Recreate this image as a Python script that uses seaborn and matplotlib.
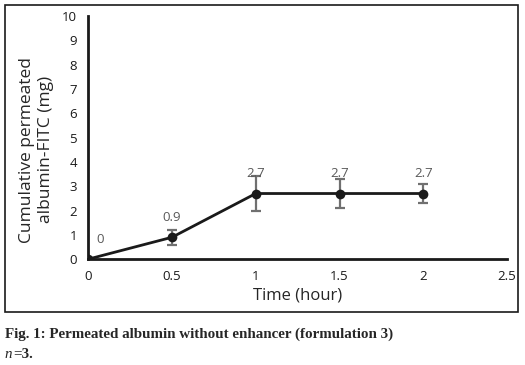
import pandas as pd
import matplotlib.pyplot as plt
import matplotlib.patches as patches
import seaborn as sns

# Values
time_h = [0, 0.5, 1, 1.5, 2]
albumin_mg = [0, 0.9, 2.7, 2.7, 2.7]
sd_mg = [0, 0.3, 0.7, 0.6, 0.4]
point_labels = ['0', '0.9', '2.7', '2.7', '2.7']

df = pd.DataFrame({'time': time_h, 'albumin': albumin_mg, 'sd': sd_mg})

sns.set_style('white')
plt.rcParams['font.family'] = ['Open Sans', 'DejaVu Sans']

fig = plt.figure(figsize=(5.25, 3.65), dpi=100)
ax = fig.add_axes([0.168, 0.29, 0.798, 0.666])

# error bars first so the line sits on top
ax.errorbar(df['time'], df['albumin'], yerr=df['sd'], fmt='none',
            ecolor='#707070', elinewidth=1.6, capsize=3.5, capthick=1.6, zorder=2)
sns.lineplot(data=df, x='time', y='albumin', ax=ax, color='#1a1a1a',
             linewidth=2, marker='o', markersize=7, markeredgewidth=0, zorder=3)

# data labels above each point
for i, (x, y, lab) in enumerate(zip(time_h, albumin_mg, point_labels)):
    dx = 12 if i == 0 else 0
    ax.annotate(lab, (x, y), xytext=(dx, 20), textcoords='offset pixels',
                ha='center', va='center', fontsize=9.5, color='#595959')

ax.set_xlim(0, 2.5)
ax.set_ylim(0, 10)
ax.set_xticks([0, 0.5, 1, 1.5, 2, 2.5])
ax.set_xticklabels(['0', '0.5', '1', '1.5', '2', '2.5'])
ax.set_yticks(range(0, 11))
ax.tick_params(length=0, labelsize=9.5, colors='#1a1a1a', pad=8)

for s in ['top', 'right']:
    ax.spines[s].set_visible(False)
for s in ['left', 'bottom']:
    ax.spines[s].set_linewidth(2)
    ax.spines[s].set_color('#1a1a1a')

ax.set_xlabel('Time (hour)', fontsize=12, labelpad=3)
ax.set_ylabel('Cumulative permeated\nalbumin-FITC (mg)', fontsize=12.5, linespacing=1.25)
ax.yaxis.set_label_coords(-0.082, 0.45)

# border round the chart area
fig.patches.append(patches.Rectangle((0.009, 0.146), 0.978, 0.84, transform=fig.transFigure,
                                     fill=False, edgecolor='#1a1a1a', linewidth=1.2))

# caption
fig.text(0.009, 0.085, 'Fig. 1: Permeated albumin without enhancer (formulation 3)',
         family='Liberation Serif', fontweight='bold', fontsize=10.8, va='center')
fig.text(0.009, 0.03, 'n', family='Liberation Serif', style='italic',
         fontsize=10.8, va='center')
fig.text(0.0245, 0.03, '=3.', family='Liberation Serif', fontweight='bold',
         fontsize=10.8, va='center')

fig.savefig('out.png', dpi=100)
